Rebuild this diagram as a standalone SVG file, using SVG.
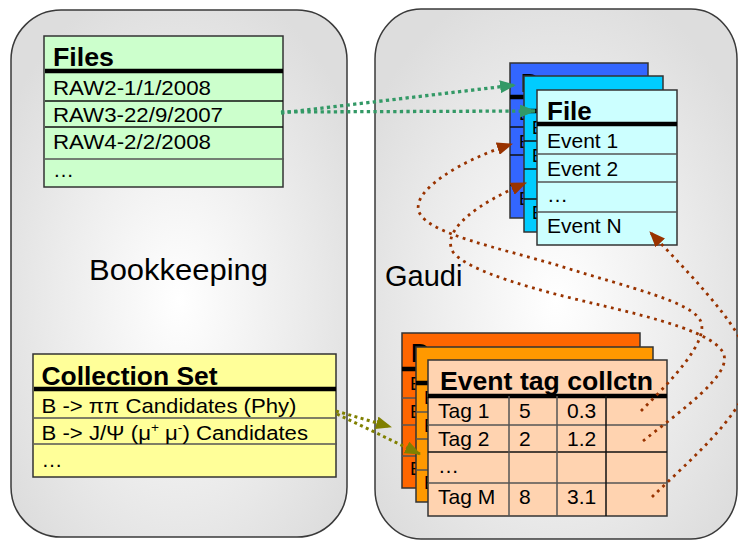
<svg xmlns="http://www.w3.org/2000/svg" width="738" height="541" viewBox="0 0 738 541">
<defs>
<radialGradient id="pg" cx="0.5" cy="0.55" r="0.62">
<stop offset="0" stop-color="#ffffff"/>
<stop offset="0.6" stop-color="#ebebeb"/>
<stop offset="1" stop-color="#dddddd"/>
</radialGradient>
<marker id="ag" markerUnits="userSpaceOnUse" viewBox="0 0 16 13" refX="15" refY="6.5" markerWidth="16" markerHeight="13" orient="auto"><path d="M0,0 L16,6.5 L0,13 z" fill="#339966"/></marker>
<marker id="ao" markerUnits="userSpaceOnUse" viewBox="0 0 16 13" refX="15" refY="6.5" markerWidth="16" markerHeight="13" orient="auto"><path d="M0,0 L16,6.5 L0,13 z" fill="#808000"/></marker>
<marker id="ab" markerUnits="userSpaceOnUse" viewBox="0 0 16 13" refX="15" refY="6.5" markerWidth="16" markerHeight="13" orient="auto"><path d="M0,0 L16,6.5 L0,13 z" fill="#993300"/></marker>
</defs>
<style>
.panel{fill:url(#pg);stroke:#3a3a3a;stroke-width:1.5}
text{font-family:"Liberation Sans",Arial,sans-serif;fill:#000}
.h{font-weight:bold;font-size:26px}
.r{font-size:21px}
.f{font-size:18px}
.big{font-size:29px}
.card{stroke:#333;stroke-width:1.5}
.sep{stroke:#555;stroke-width:1.5}
.blk{stroke:#111;stroke-width:1.5}
.thick{stroke:#000;stroke-width:4.5}
.cg{fill:none;stroke:#339966;stroke-width:3.3;stroke-dasharray:3.3 3.3}
.co{fill:none;stroke:#808000;stroke-width:3;stroke-dasharray:3 3.4}
.cb{fill:none;stroke:#993300;stroke-width:2.8;stroke-dasharray:2.8 4.6}
</style>

<g id="bookkeeping">
<rect class="panel" x="11" y="10" width="336" height="527" rx="50" ry="50"/>
<text class="big" x="89" y="280" textLength="179" lengthAdjust="spacingAndGlyphs">Bookkeeping</text>
</g>

<g id="gaudi">
<rect class="panel" x="375" y="9" width="362" height="530" rx="46" ry="50"/>
<text class="big" x="385" y="286">Gaudi</text>
</g>

<g id="files">
<rect class="card" x="44" y="36" width="239" height="151" fill="#ccffcc"/>
<text class="h" x="53" y="66" textLength="61" lengthAdjust="spacingAndGlyphs">Files</text>
<line class="thick" x1="45" y1="71" x2="283" y2="71"/>
<line class="blk" x1="45" y1="101" x2="283" y2="101"/>
<line class="blk" x1="45" y1="127" x2="283" y2="127"/>
<line class="sep" x1="45" y1="159" x2="284" y2="159" stroke-width="2"/>
<text class="r" x="53" y="95" textLength="158" lengthAdjust="spacingAndGlyphs">RAW2-1/1/2008</text>
<text class="r" x="53" y="121.5" textLength="170" lengthAdjust="spacingAndGlyphs">RAW3-22/9/2007</text>
<text class="r" x="53" y="149" textLength="158" lengthAdjust="spacingAndGlyphs">RAW4-2/2/2008</text>
<text class="r" x="53" y="177">…</text>
</g>

<g id="collection-set">
<rect class="card" x="33" y="354" width="303" height="123" fill="#ffff99"/>
<text class="h" x="41.5" y="385" textLength="176" lengthAdjust="spacingAndGlyphs">Collection Set</text>
<line class="thick" x1="34" y1="389" x2="336" y2="389"/>
<line class="sep" x1="34" y1="418" x2="336" y2="418"/>
<line class="sep" x1="34" y1="444" x2="337" y2="444" stroke-width="2"/>
<text class="r" x="41.5" y="413" textLength="255" lengthAdjust="spacingAndGlyphs">B -&gt; ππ Candidates (Phy)</text>
<text class="r" transform="translate(41.5,440) scale(1.055,1)">B -&gt; J/Ψ (μ<tspan font-size="13" dy="-8">+</tspan><tspan dy="8"> μ</tspan><tspan font-size="13" dy="-8">-</tspan><tspan dy="8">) Candidates</tspan></text>
<text class="r" x="41.5" y="467">…</text>
</g>

<g id="file-stack">
<g id="file-back">
<rect class="card" x="510" y="63" width="138" height="155" fill="#3366ff" stroke="#222"/>
<text class="h" x="521" y="92">D</text>
<line class="thick" x1="510" y1="97" x2="648" y2="97"/>
<line class="blk" x1="510" y1="127" x2="648" y2="127"/>
<line class="blk" x1="510" y1="155" x2="648" y2="155"/>
<line class="blk" x1="510" y1="185" x2="648" y2="185"/>
<text class="f" x="519" y="120">E</text>
<text class="f" x="519" y="148">E</text>
<text class="f" x="519" y="205">E</text>
</g>
<g id="file-middle">
<rect class="card" x="524" y="76" width="139" height="156" fill="#00ccff" stroke="#222"/>
<line class="thick" x1="524" y1="111" x2="663" y2="111"/>
<line class="blk" x1="524" y1="141" x2="663" y2="141"/>
<line class="blk" x1="524" y1="169" x2="663" y2="169"/>
<line class="blk" x1="524" y1="199" x2="663" y2="199"/>
<text class="f" x="532" y="134">E</text>
<text class="f" x="532" y="162">E</text>
<text class="f" x="532" y="219">E</text>
</g>
<g id="file">
<rect class="card" x="537" y="90" width="140" height="155" fill="#ccffff"/>
<text class="h" x="547" y="120">File</text>
<line class="thick" x1="537" y1="124" x2="677" y2="124"/>
<line class="sep" x1="537" y1="154" x2="677" y2="154"/>
<line class="sep" x1="537" y1="182" x2="677" y2="182"/>
<line class="sep" x1="537" y1="212" x2="677" y2="212"/>
<text class="r" x="547" y="148">Event 1</text>
<text class="r" x="547" y="176">Event 2</text>
<text class="r" x="547" y="202">…</text>
<text class="r" x="547" y="233">Event N</text>
</g>
</g>

<g id="tag-stack">
<g id="tag-back">
<rect class="card" x="402" y="333" width="238" height="155" fill="#ff6600"/>
<text class="h" x="411" y="362">D</text>
<line class="thick" x1="402" y1="369" x2="640" y2="369"/>
<line class="sep" x1="402" y1="398" x2="640" y2="398"/>
<line class="sep" x1="402" y1="425" x2="640" y2="425"/>
<line class="sep" x1="402" y1="456" x2="640" y2="456"/>
<text class="f" x="410" y="390">E</text>
<text class="f" x="410" y="418">E</text>
<text class="f" x="410" y="475">E</text>
</g>
<g id="tag-middle">
<rect class="card" x="416" y="347" width="237" height="155" fill="#ff9900"/>
<line class="thick" x1="416" y1="383" x2="653" y2="383"/>
<line class="sep" x1="416" y1="412" x2="653" y2="412"/>
<line class="sep" x1="416" y1="439" x2="653" y2="439"/>
<line class="sep" x1="416" y1="470" x2="653" y2="470"/>
<text class="f" x="424" y="404">E</text>
<text class="f" x="424" y="432">E</text>
<text class="f" x="424" y="489">E</text>
</g>
<g id="event-tag-collctn">
<rect class="card" x="428" y="360" width="239" height="156" fill="#ffd3b0"/>
<text class="h" x="440" y="390" textLength="213" lengthAdjust="spacingAndGlyphs">Event tag collctn</text>
<line class="thick" x1="428" y1="396" x2="667" y2="396"/>
<line class="sep" x1="428" y1="425" x2="667" y2="425"/>
<line class="blk" x1="428" y1="452" x2="667" y2="452"/>
<line class="sep" x1="428" y1="483" x2="667" y2="483"/>
<line class="sep" x1="509" y1="396" x2="509" y2="516"/>
<line class="sep" x1="557" y1="396" x2="557" y2="516"/>
<line class="blk" x1="606" y1="396" x2="606" y2="516"/>
<text class="r" x="438" y="418">Tag 1</text>
<text class="r" x="519" y="418">5</text>
<text class="r" x="567" y="418">0.3</text>
<text class="r" x="438" y="446">Tag 2</text>
<text class="r" x="519" y="446">2</text>
<text class="r" x="567" y="446">1.2</text>
<text class="r" x="438" y="473">…</text>
<text class="r" x="438" y="504">Tag M</text>
<text class="r" x="519" y="504">8</text>
<text class="r" x="567" y="504">3.1</text>
</g>
</g>

<g id="connectors">
<path class="cg" d="M281,113 L515,85" marker-end="url(#ag)"/>
<path class="cg" d="M281,112 L535,111" marker-end="url(#ag)"/>
<path class="co" d="M336,411 L391,427" marker-end="url(#ao)"/>
<path class="co" d="M337,414 L420,454" marker-end="url(#ao)"/>
<path class="cb" d="M641,411 C672,380 708,342 701,322 C694,302 630,288 560,266 C500,248 428,234 419,212 C411,190 462,160 512,144" marker-end="url(#ab)"/>
<path class="cb" d="M643,441 C682,410 730,376 724,355 C718,334 655,318 600,305 C540,291 468,272 453,252 C440,230 480,202 526,183" marker-end="url(#ab)"/>
<path class="cb" d="M652,497 C690,460 738,420 750,380 C760,345 700,285 650,232" marker-end="url(#ab)"/>
</g>
</svg>
